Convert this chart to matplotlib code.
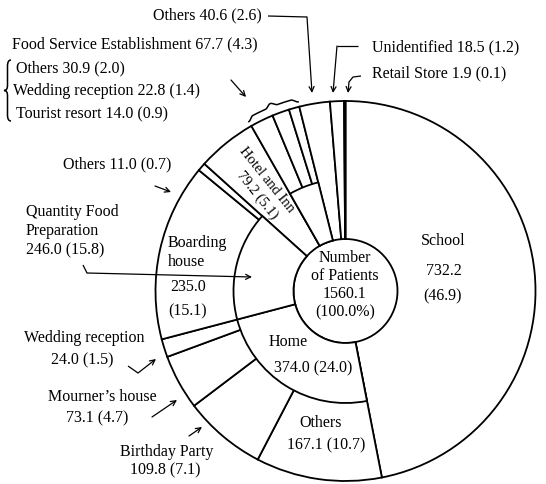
import numpy as np
import matplotlib
matplotlib.use('Agg')
import matplotlib.pyplot as plt
from matplotlib.path import Path
from matplotlib.patches import PathPatch

W, H = 546, 484

# ---- data ----
group_names = ["School", "Home", "Quantity Food Preparation", "Hotel and Inn",
               "Food Service Establishment", "Others", "Unidentified", "Retail Store"]
group_values = [732.2, 374.0, 246.0, 79.2, 67.7, 40.6, 18.5, 1.9]
group_pcts = ["46.9", "24.0", "15.8", "5.1", "4.3", "2.6", "1.2", "0.1"]
group_split = [False, True, True, False, True, False, False, False]

leaf_names = ["School", "Others", "Birthday Party", "Mourner\u2019s house", "Wedding reception",
              "Boarding house", "Others", "Hotel and Inn", "Others", "Wedding reception",
              "Tourist resort", "Others", "Unidentified", "Retail Store"]
leaf_values = [732.2, 167.1, 109.8, 73.1, 24.0, 235.0, 11.0, 79.2, 30.9, 22.8,
               14.0, 40.6, 18.5, 1.9]
leaf_pcts = ["46.9", "10.7", "7.1", "4.7", "1.5", "15.1", "0.7", "5.1", "2.0", "1.4",
             "0.9", "2.6", "1.2", "0.1"]
total_value = 1560.1
total_pct = "100.0%"

plt.rcParams['font.family'] = ['Liberation Serif', 'DejaVu Serif']
FS = 11.5

fig = plt.figure(figsize=(W / 100, H / 100), dpi=100)
ax = fig.add_axes([0, 0, 1, 1])


def P(x, y):
    return (x, H - y)


CX, CY = P(345.5, 291)
R_OUT, R_MID, R_IN = 190, 112, 52
LW = 1.3

# outer (leaf) ring, spanning from the centre circle to the rim
wedges, _ = ax.pie(leaf_values, radius=R_OUT, center=(CX, CY), startangle=90,
                   counterclock=False, frame=False,
                   wedgeprops=dict(width=R_OUT - R_IN, facecolor='white',
                                   edgecolor='black', linewidth=LW))
# middle ring only for groups that are split further
gw, _ = ax.pie(group_values, radius=R_MID, center=(CX, CY), startangle=90,
               counterclock=False, frame=False,
               wedgeprops=dict(width=R_MID - R_IN, facecolor='white',
                               edgecolor='black', linewidth=LW))
for w, s in zip(gw, group_split):
    w.set_visible(s)
    w.set_zorder(3)

ax.set_xlim(0, W)
ax.set_ylim(0, H)
ax.set_aspect('equal')
ax.axis('off')


def txt(x, y, s, ha='left', **kw):
    ax.text(*P(x, y), s, ha=ha, va='center', fontsize=FS, zorder=5, **kw)


def arrow(points, lw=0.9):
    pts = [P(*p) for p in points]
    if len(pts) > 2:
        xs, ys = zip(*pts[:-1])
        ax.plot(xs, ys, color='black', lw=lw, solid_capstyle='butt', zorder=5)
    ax.annotate('', xy=pts[-1], xytext=pts[-2],
                arrowprops=dict(arrowstyle='->', lw=lw, color='black',
                                shrinkA=0, shrinkB=0, mutation_scale=9), zorder=5)


def lab(i):
    return f"{leaf_values[i]:.1f} ({leaf_pcts[i]})"


def glab(i):
    return f"{group_values[i]:.1f} ({group_pcts[i]})"


cum = np.concatenate([[0], np.cumsum(group_values)]) / sum(group_values) * 360.0

# ---- centre ----
txt(345, 258, "Number", ha='center')
txt(345, 276, "of Patients", ha='center')
txt(345, 294, f"{total_value:.1f}", ha='center')
txt(345, 312, f"({total_pct})", ha='center')

# ---- School ----
txt(443, 241, "School", ha='center')
txt(444, 271, f"{leaf_values[0]:.1f}", ha='center')
txt(443, 296, f"({leaf_pcts[0]})", ha='center')

# ---- Home ----
txt(288, 342, group_names[1], ha='center')
txt(313, 368, glab(1), ha='center')
txt(321, 423, leaf_names[1], ha='center')
txt(326, 445, lab(1), ha='center')

txt(167, 452, leaf_names[2], ha='center')
txt(165, 470, lab(2), ha='center')
arrow([(189, 436), (202, 427)])

txt(102, 397, leaf_names[3], ha='center')
txt(97, 418, lab(3), ha='center')
arrow([(152, 417), (177, 400)])

txt(84, 338, leaf_names[4], ha='center')
txt(82, 360, lab(4), ha='center')
arrow([(128, 366), (138, 373), (156, 359)])

# ---- Quantity Food Preparation ----
txt(168, 243, "Boarding")
txt(168, 262, "house")
txt(170, 287, f"{leaf_values[5]:.1f}")
txt(168, 311, f"({leaf_pcts[5]})")

txt(26, 212, "Quantity Food")
txt(26, 231, "Preparation")
txt(26, 250, glab(2))
arrow([(83, 265), (87, 273), (252, 277)])

txt(63, 164, f"{leaf_names[6]} {lab(6)}")
arrow([(155, 186), (171, 192)])

# ---- Hotel and Inn (two parallel lines along the sector's middle radius) ----
mid = np.deg2rad(90 - (cum[3] + cum[4]) / 2)
u = np.array([np.cos(mid), np.sin(mid)])        # radial (data coords)
pp = np.array([np.sin(mid), -np.cos(mid)])      # perpendicular, toward smaller angle
rot = np.rad2deg(mid) - 180
for s_, r_, d_ in [(leaf_names[7], 136, 8.5), (lab(7), 130, -8.5)]:
    x_, y_ = np.array([CX, CY]) + r_ * u + d_ * pp
    ax.text(x_, y_, s_, rotation=rot, rotation_mode='anchor',
            ha='center', va='center', fontsize=10.5, zorder=5)

# ---- Food Service Establishment ----
txt(12, 44, f"{group_names[4]} {glab(4)}")
txt(16, 68, f"{leaf_names[8]} {lab(8)}")
txt(13, 91, f"{leaf_names[9]} {lab(9)}")
txt(16, 114, f"{leaf_names[10]} {lab(10)}")
arrow([(231, 80), (246, 97)])

# vertical curly brace "{"
bx0, bx1, byt, byb = 4, 11, 60, 121
bym = (byt + byb) / 2
xm = (bx0 + bx1) / 2
verts = [P(bx1, byt), P(xm, byt), P(xm, byt + 6), P(xm, bym - 5), P(xm, bym), P(bx0, bym),
         P(xm, bym), P(xm, bym + 5), P(xm, byb - 6), P(xm, byb), P(bx1, byb)]
codes = [Path.MOVETO, Path.CURVE3, Path.CURVE3, Path.LINETO, Path.CURVE3, Path.CURVE3,
         Path.CURVE3, Path.CURVE3, Path.LINETO, Path.CURVE3, Path.CURVE3]
ax.add_patch(PathPatch(Path(verts, codes), fill=False, lw=1.1, color='black', zorder=5))

# curly brace over the FSE sub-sectors, following the rim
a_start = 90 - cum[4]
a_end = 90 - cum[5]


def smooth(x):
    x = np.clip(x, 0, 1)
    return 3 * x ** 2 - 2 * x ** 3


t = np.linspace(0, 1, 200)
s = np.minimum(t, 1 - t)
prof = smooth(s / 0.12) + smooth((s - 0.38) / 0.12)
ang = np.deg2rad(a_start + (a_end - a_start) * t)
rr = 195 + 3.5 * prof
ax.plot(CX + rr * np.cos(ang), CY + rr * np.sin(ang), color='black', lw=1.1, zorder=5)

# ---- small sectors at the top ----
txt(153, 15, f"{group_names[5]} {glab(5)}")
arrow([(268, 16), (307, 17), (312, 93)])

txt(372, 47, f"{group_names[6]} {glab(6)}")
arrow([(358, 46), (337, 46), (333, 93)])

txt(372, 73, f"{group_names[7]} {glab(7)}")
arrow([(361, 76), (353, 77), (349, 82), (348, 93)])

fig.savefig('out.png', dpi=100, facecolor='white')
